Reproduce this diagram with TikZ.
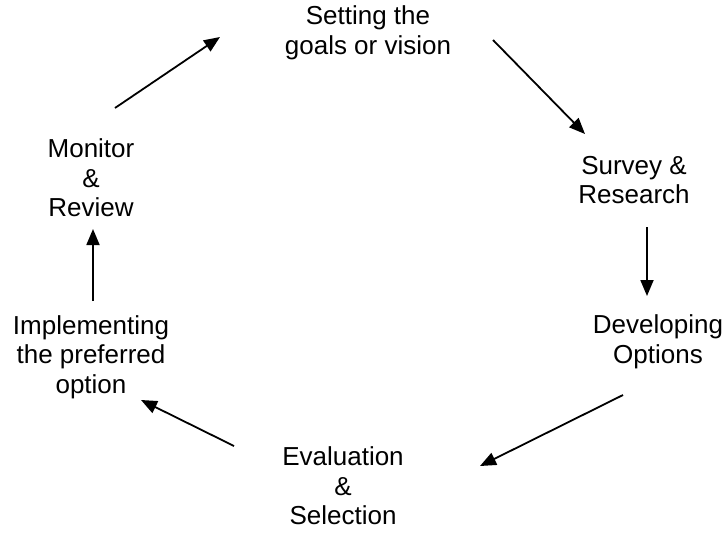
\documentclass[tikz,border=0pt]{standalone}
\usepackage{fontspec}
\setmainfont{Liberation Sans}
\usetikzlibrary{arrows.meta}
\begin{document}
\begin{tikzpicture}[x=1pt,y=-1pt,
  lbl/.style={align=center,font=\fontsize{26}{29.5}\selectfont,inner sep=0pt},
  flow/.style={line width=1.8pt,-{Triangle[length=16pt,width=13pt]}}]
\useasboundingbox (0,0) rectangle (725,533);
\node[lbl] (goals) at (368,33) {Setting the\\goals or vision};
\node[lbl] (survey) at (634,180) {Survey \&\\Research};
\node[lbl] (develop) at (658,342) {Developing\\Options};
\node[lbl] (eval) at (343,486) {Evaluation\\\&\\Selection};
\node[lbl] (impl) at (91,357) {Implementing\\the preferred\\option};
\node[lbl] (monitor) at (91,178) {Monitor\\\&\\Review};
\coordinate (a1) at (115,108); \coordinate (b1) at (220,37);
\coordinate (a2) at (493,40);  \coordinate (b2) at (585,134);
\coordinate (a3) at (647,227); \coordinate (b3) at (647,296);
\coordinate (a4) at (623,395); \coordinate (b4) at (480,466);
\coordinate (a5) at (234,446); \coordinate (b5) at (141,400);
\coordinate (a6) at (93,301);  \coordinate (b6) at (93,229);
\draw[flow] (a1) -- (b1);
\draw[flow] (a2) -- (b2);
\draw[flow] (a3) -- (b3);
\draw[flow] (a4) -- (b4);
\draw[flow] (a5) -- (b5);
\draw[flow] (a6) -- (b6);
\end{tikzpicture}
\end{document}
